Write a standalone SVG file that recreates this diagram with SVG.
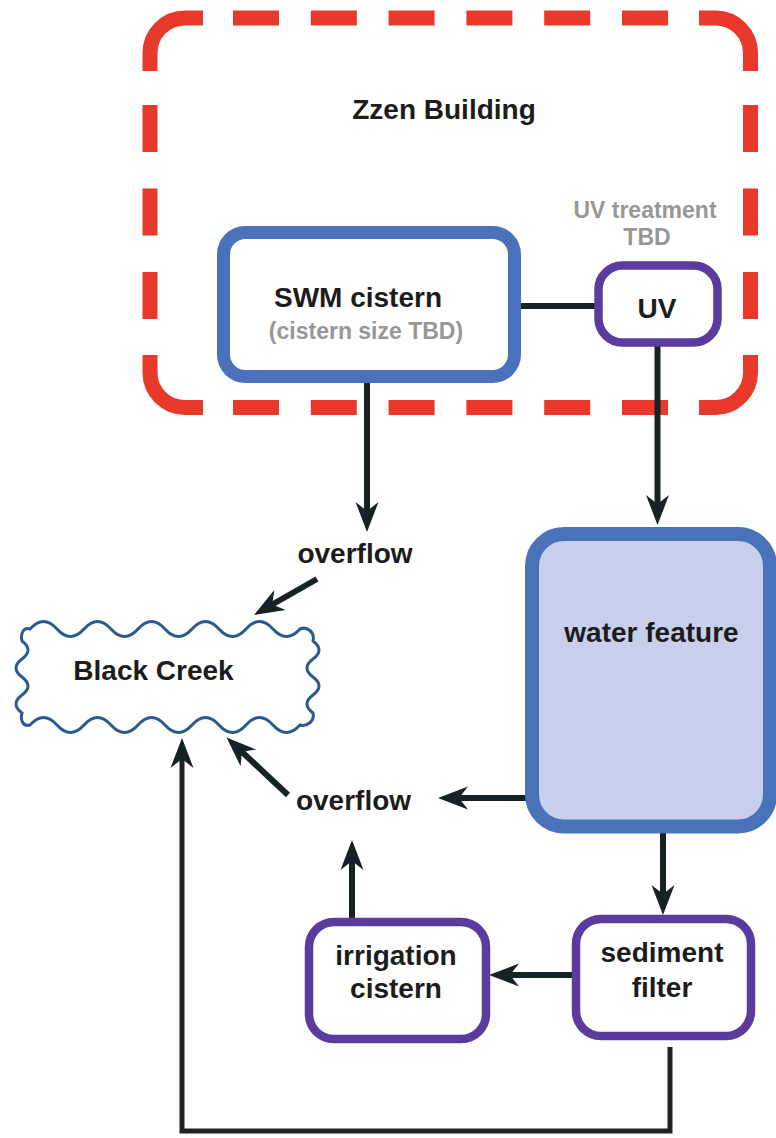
<svg xmlns="http://www.w3.org/2000/svg" width="776" height="1138" viewBox="0 0 776 1138">
<style>
.lbl{font-family:"Liberation Sans",Arial,Helvetica,sans-serif;font-weight:bold;font-size:28px;fill:#1c1c1c;text-anchor:middle}
.note{font-family:"Liberation Sans",Arial,Helvetica,sans-serif;font-weight:bold;font-size:23px;fill:#979797;text-anchor:middle}
.red{fill:none;stroke:#e8392a;stroke-width:15;stroke-linecap:butt}
.blue{fill:#ffffff;stroke:#4a72ba;stroke-width:13}
.purple{fill:#ffffff;stroke:#5b3b9e;stroke-width:8.5}
.conn{fill:none;stroke:#172224;stroke-width:6}
.thin{fill:none;stroke:#222222;stroke-width:5}
</style>
<defs>
<marker id="ah" viewBox="-32 -13 34 26" refX="-15" refY="0" markerWidth="34" markerHeight="26" markerUnits="userSpaceOnUse" orient="auto">
<path d="M0,0 L-30,-11.5 L-21,0 L-30,11.5 Z" fill="#172224"/>
</marker>
</defs>
<rect width="776" height="1138" fill="#ffffff"/>

<g id="zzen-building">
<path class="red" d="M150,71 L150,53 A35,35 0 0 1 185,18 L203,18"/>
<path class="red" d="M699,18 L715.5,18 A35,35 0 0 1 750.5,53 L750.5,71"/>
<path class="red" d="M150,355 L150,372.5 A35,35 0 0 0 185,407.5 L203,407.5"/>
<path class="red" d="M699,407.5 L715.5,407.5 A35,35 0 0 0 750.5,372.5 L750.5,355"/>
<line class="red" x1="233" y1="18" x2="668" y2="18" stroke-dasharray="46 31.8"/>
<line class="red" x1="233" y1="407.5" x2="668" y2="407.5" stroke-dasharray="46 31.8"/>
<line class="red" x1="150" y1="105" x2="150" y2="319" stroke-dasharray="47 36.5"/>
<line class="red" x1="750.5" y1="105" x2="750.5" y2="319" stroke-dasharray="47 36.5"/>
<text class="lbl" x="444" y="119">Zzen Building</text>
</g>

<g id="connectors">
<line class="conn" x1="521" y1="306" x2="595" y2="306"/>
<line class="conn" x1="367" y1="383" x2="367" y2="517" marker-end="url(#ah)"/>
<line class="conn" x1="657.5" y1="346" x2="657.5" y2="510" marker-end="url(#ah)"/>
<line class="conn" x1="317" y1="579" x2="267" y2="607.5" marker-end="url(#ah)"/>
<line class="conn" x1="526" y1="798" x2="453" y2="798" marker-end="url(#ah)"/>
<line class="conn" x1="288" y1="795" x2="237.5" y2="747.7" marker-end="url(#ah)"/>
<line class="conn" x1="352" y1="922" x2="352" y2="855" marker-end="url(#ah)"/>
<line class="conn" x1="663" y1="833" x2="663" y2="900" marker-end="url(#ah)"/>
<line class="conn" x1="573" y1="975" x2="504" y2="975" marker-end="url(#ah)"/>
<path class="thin" d="M670,1047 L670,1131 L182,1131 L182,753" marker-end="url(#ah)"/>
</g>

<g id="swm-cistern">
<rect class="blue" x="223.5" y="232.5" width="291" height="144" rx="22"/>
<text class="lbl" x="358" y="307">SWM cistern</text>
<text class="note" x="366" y="339">(cistern size TBD)</text>
</g>

<g id="uv">
<rect class="purple" x="598.5" y="265.5" width="119" height="77" rx="24"/>
<text class="lbl" x="657" y="318">UV</text>
<text class="note" x="645" y="218" font-size="24">UV treatment</text>
<text class="note" x="647" y="245" font-size="24">TBD</text>
</g>

<g id="water-feature">
<rect x="532" y="534" width="238" height="292.5" rx="32" fill="#c7cfea" stroke="#4a72ba" stroke-width="14"/>
<text class="lbl" x="651.5" y="642">water feature</text>
</g>

<g id="black-creek">
<path d="M30,629 q13.5,-15 27,0 t27,0 t27,0 t27,0 t27,0 t27,0 t27,0 t27,0 t27,0 t27,0 C307,626 315,632 313,641 q12,9 0,18 t0,18 t0,18 t0,18 C315,721 307,727 300,725 q-13.5,15 -27,0 t-27,0 t-27,0 t-27,0 t-27,0 t-27,0 t-27,0 t-27,0 t-27,0 t-27,0 C23,727 20,720 22,713 q-12,-9 0,-18 t0,-18 t0,-18 t0,-18 C20,633 24,627 30,629 Z" fill="#ffffff" stroke="#2a5a8e" stroke-width="3"/>
<text class="lbl" x="153.5" y="680">Black Creek</text>
</g>

<g id="overflow-labels">
<text class="lbl" x="355" y="563">overflow</text>
<text class="lbl" x="353.5" y="810">overflow</text>
</g>

<g id="irrigation-cistern">
<rect class="purple" x="309" y="922" width="177" height="117" rx="25"/>
<text class="lbl" x="396" y="965">irrigation</text>
<text class="lbl" x="396" y="998">cistern</text>
</g>

<g id="sediment-filter">
<rect class="purple" x="576" y="919" width="175" height="117" rx="25"/>
<text class="lbl" x="662" y="962">sediment</text>
<text class="lbl" x="662" y="997">filter</text>
</g>
</svg>
